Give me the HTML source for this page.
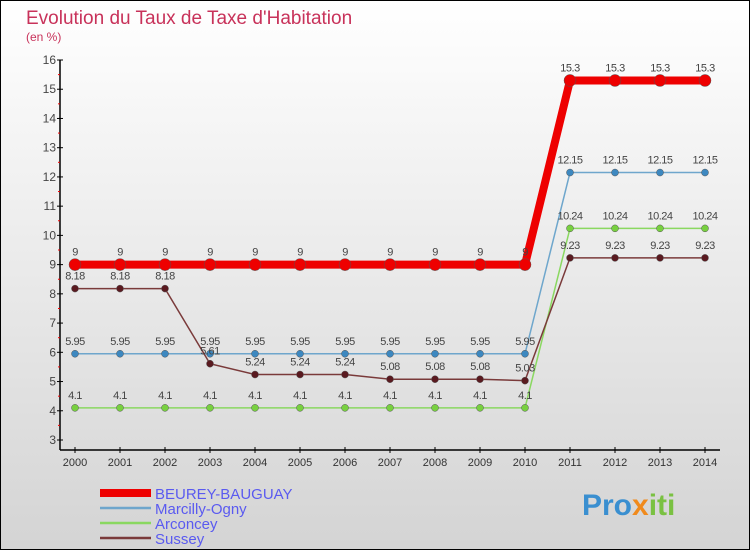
<!DOCTYPE html>
<html><head><meta charset="utf-8">
<style>
html,body{margin:0;padding:0}
body{width:750px;height:550px;overflow:hidden;font-family:"Liberation Sans",sans-serif}
#wrap{position:absolute;left:0;top:0;width:748px;height:548px;border:1px solid #000;background:linear-gradient(#ffffff,#d4d4d4)}
</style></head>
<body>
<div id="wrap">
<svg id="chart" width="750" height="550" style="position:absolute;left:-1px;top:-1px">
<text x="26" y="24" font-size="19" fill="#c8325a">Evolution du Taux de Taxe d'Habitation</text>
<text x="26" y="41" font-size="12" fill="#c8325a">(en %)</text>
<g id="axes"></g>
<g id="series"></g>
<g id="legend"></g>
<text x="582" y="515" font-size="30" font-weight="bold" fill="#3a8fd0">Pro<tspan fill="#f08a1c">x</tspan><tspan fill="#7ac142">iti</tspan></text>
</svg>
</div>
<script>
const years=[2000,2001,2002,2003,2004,2005,2006,2007,2008,2009,2010,2011,2012,2013,2014];
const yTicks=[3,4,5,6,7,8,9,10,11,12,13,14,15,16];
const seriesNames=["BEUREY-BAUGUAY","Marcilly-Ogny","Arconcey","Sussey"];
const beurey=[9,9,9,9,9,9,9,9,9,9,9,15.3,15.3,15.3,15.3];
const marcilly=[5.95,5.95,5.95,5.95,5.95,5.95,5.95,5.95,5.95,5.95,5.95,12.15,12.15,12.15,12.15];
const arconcey=[4.1,4.1,4.1,4.1,4.1,4.1,4.1,4.1,4.1,4.1,4.1,10.24,10.24,10.24,10.24];
const sussey=[8.18,8.18,8.18,5.61,5.24,5.24,5.24,5.08,5.08,5.08,5.03,9.23,9.23,9.23,9.23];
const NS="http://www.w3.org/2000/svg";
const xS=i=>75+i*45;
const yS=v=>440-(v-3)*(380/13);
function mk(t,a,p){const e=document.createElementNS(NS,t);for(const k in a)e.setAttribute(k,a[k]);p.appendChild(e);return e;}
const ax=document.getElementById('axes');
let l=mk('line',{x1:60,y1:yS(16),x2:60,y2:450,stroke:'#000','stroke-width':1.5},ax);


l=mk('line',{x1:60,y1:450,x2:720,y2:450,stroke:'#000','stroke-width':1.5},ax);


yTicks.forEach(v=>{
 mk('line',{x1:57,y1:yS(v),x2:63,y2:yS(v),stroke:'#000'},ax);
 if(v<16) mk('line',{x1:58,y1:yS(v+0.5),x2:60,y2:yS(v+0.5),stroke:'#e00'},ax);
 const t=mk('text',{x:56,y:yS(v)+4,'font-size':12,fill:'#444','text-anchor':'end'},ax);
 t.textContent=v;
 
 
});
years.forEach((y,i)=>{
 mk('line',{x1:xS(i),y1:447,x2:xS(i),y2:453,stroke:'#000'},ax);
 const t=mk('text',{x:xS(i),y:466,'font-size':11,fill:'#333','text-anchor':'middle'},ax);
 t.textContent=y;
 
 
});
const sg=document.getElementById('series');
const defs=[
 {d:marcilly,c:'#6ea6cc',pc:'#3d88c0',w:1.5,r:3.5,n:'marcilly-ogny'},
 {d:arconcey,c:'#8ad860',pc:'#78d040',w:1.5,r:3.5,n:'arconcey'},
 {d:sussey,c:'#7a3a3a',pc:'#5a1a20',w:1.5,r:3.5,n:'sussey'},
 {d:beurey,c:'#ee0000',pc:'#ee0000',w:8,r:6,n:'beurey-bauguay'}];
defs.forEach(s=>{
 const g=mk('g',{},sg);
 
 
 const p=mk('polyline',{points:s.d.map((v,i)=>xS(i)+','+yS(v)).join(' '),fill:'none',stroke:s.c,'stroke-width':s.w},g);
 
 
 s.d.forEach((v,i)=>{
  const c=mk('circle',{cx:xS(i),cy:yS(v),r:s.r,fill:s.pc,stroke:'#555','stroke-width':0.5},g);
  
  
  const t=mk('text',{x:xS(i),y:yS(v)-9,'font-size':11,fill:'#444','text-anchor':'middle','letter-spacing':'-0.5'},g);
  t.textContent=v;
  
  
 });
});
const lg=document.getElementById('legend');
const lc=['#ee0000','#6ea6cc','#8ad860','#7a3a3a'];
seriesNames.forEach((n,i)=>{
 const y=493+i*15;
 const g=mk('g',{},lg);
 
 
 mk('line',{x1:100,y1:y,x2:151,y2:y,stroke:lc[i],'stroke-width':i==0?8:2.5},g);
 const t=mk('text',{x:155,y:y+6,'font-size':15,fill:'#5a5af0'},g);
 t.textContent=n;
});
</script>
</body></html>
